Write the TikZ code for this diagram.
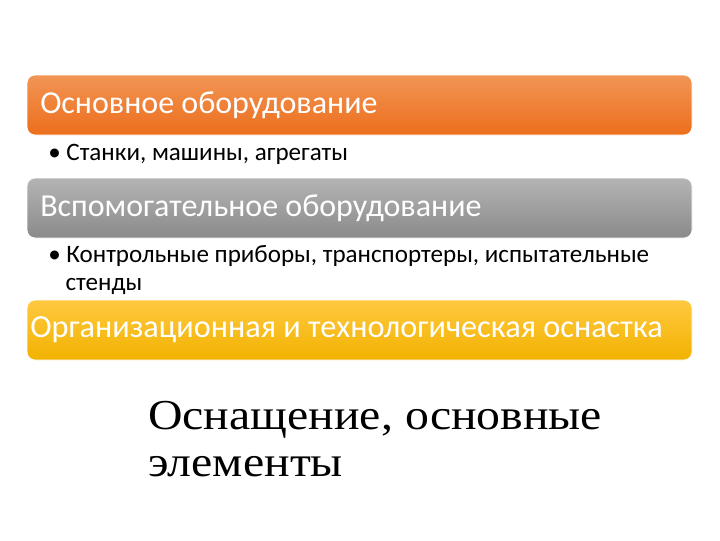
\documentclass[tikz,border=0pt]{standalone}
\usepackage{fontspec}
\setmainfont{Carlito}
\newfontfamily\serifru[FakeStretch=1.12]{Liberation Serif}
\usepackage{tikz}
\usetikzlibrary{positioning,shadows}
\definecolor{orangetop}{HTML}{F29555}
\definecolor{orangebot}{HTML}{EC6E1C}
\definecolor{graytop}{HTML}{B4B4B4}
\definecolor{graybot}{HTML}{8A8A8A}
\definecolor{yellowtop}{HTML}{FFC940}
\definecolor{yellowbot}{HTML}{F2B200}

\begin{document}
\begin{tikzpicture}[x=0.75pt,y=-0.75pt,
  bar/.style={rounded corners=6pt,draw=white,line width=0.6pt},
  head/.style={anchor=west,text=white,font=\fontsize{24}{28}\selectfont,inner sep=0pt},
  item/.style={anchor=north west,align=left,font=\fontsize{18.8}{21.2}\selectfont,inner sep=0pt}]
\fill[white] (0,0) rectangle (720,540);
% bars
\shade[bar,top color=orangetop,bottom color=orangebot] (27,75) rectangle (692,135);
\shade[bar,top color=graytop,bottom color=graybot] (27,178) rectangle (692,238);
\shade[bar,top color=yellowtop,bottom color=yellowbot] (27,300) rectangle (692,360);
\node[head] (osn) at (40,105) {Основное оборудование};
\node[head] (vsp) at (40,208) {Вспомогательное оборудование};
\node[head,font=\fontsize{24.2}{28}\selectfont] (org) at (30,330) {Организационная и технологическая оснастка};
% items
\node[item] (it1) at (48,144) {\textbullet\ Станки, машины, агрегаты};
\node[item] (it2) at (48,245) {\textbullet\ Контрольные приборы, транспортеры, испытательные\\\hspace*{13pt}стенды};
% caption
\node[anchor=north west,inner sep=0pt,align=left,
  font=\serifru\fontsize{32}{35}\selectfont] (cap) at (148,401)
  {Оснащение, основные\\элементы};
\end{tikzpicture}
\end{document}
